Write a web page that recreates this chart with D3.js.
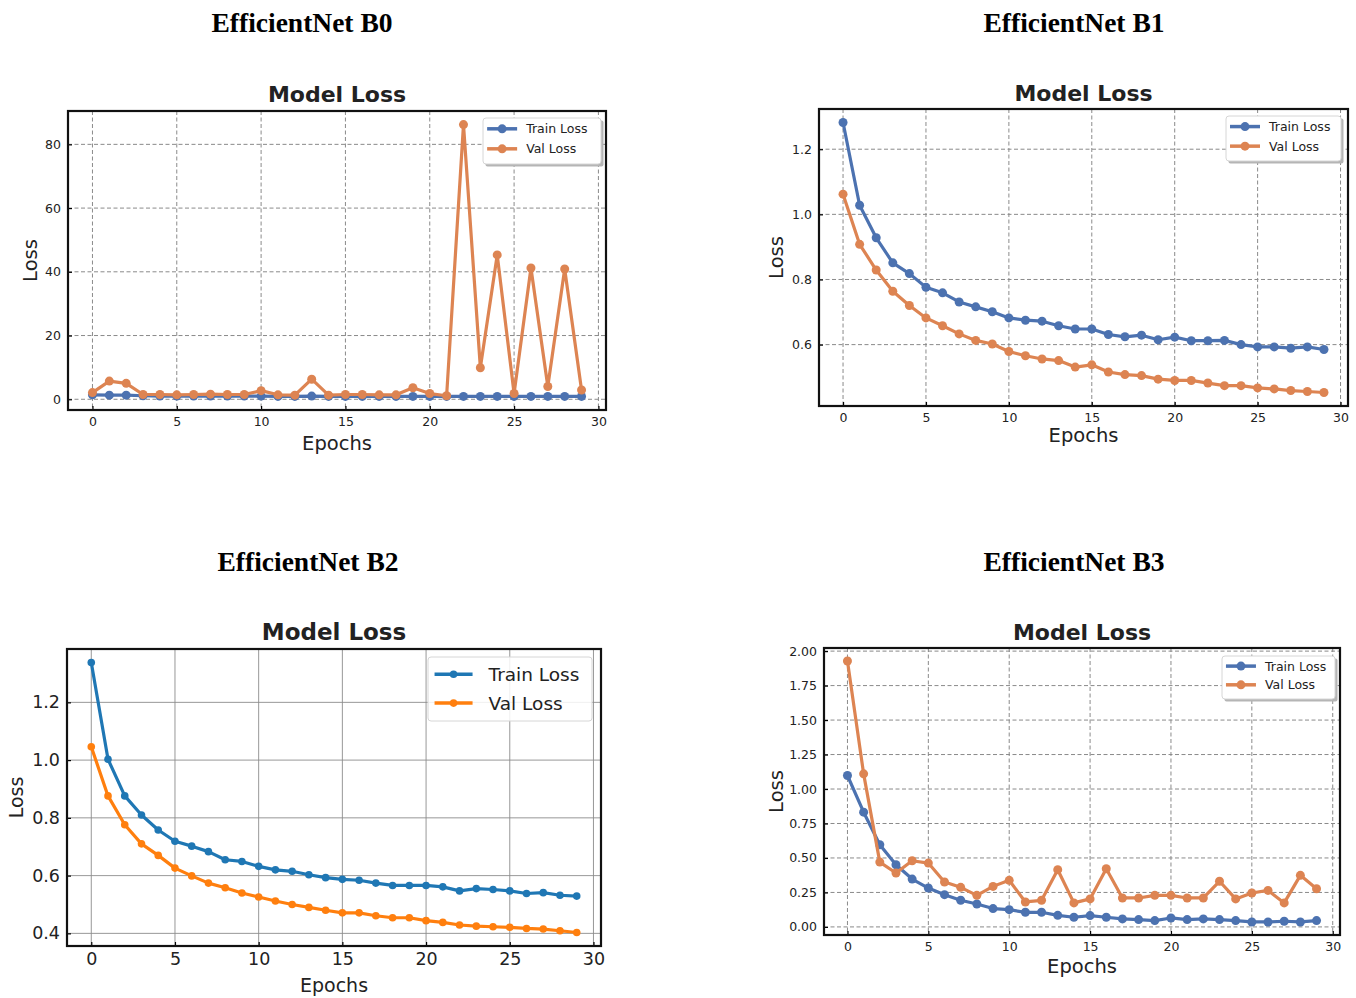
<!DOCTYPE html>
<html><head><meta charset="utf-8">
<script src="https://cdn.jsdelivr.net/npm/d3@7"></script>
<style>body{margin:0;background:#fff}svg{display:block}</style>
</head><body>
<svg id="c" width="1356" height="998"></svg>
<script>
const epochs = d3.range(0, 30);
const xTicks = [0, 5, 10, 15, 20, 25, 30];
const seriesNames = ["Train Loss", "Val Loss"];

const b0Train = [1.4,1.3,1.3,1.1,1.0,1.0,1.0,1.0,1.0,1.0,1.0,0.9,0.9,1.0,0.9,0.9,0.9,0.9,0.9,0.9,0.9,0.9,0.9,0.9,0.9,0.9,0.9,0.9,0.9,0.9];
const b0Val = [2.1,5.7,5.0,1.5,1.5,1.4,1.5,1.6,1.5,1.5,2.7,1.4,1.3,6.3,1.3,1.5,1.5,1.4,1.4,3.6,1.8,1.1,86.2,9.9,45.3,1.8,41.2,4.0,40.9,2.9];
const b0YTicks = [0, 20, 40, 60, 80];

const b1Train = [1.282,1.028,0.928,0.851,0.818,0.776,0.759,0.731,0.716,0.701,0.682,0.675,0.672,0.658,0.648,0.648,0.631,0.624,0.629,0.615,0.623,0.612,0.612,0.613,0.600,0.593,0.593,0.589,0.593,0.585];
const b1Val = [1.062,0.908,0.829,0.764,0.720,0.682,0.658,0.633,0.613,0.602,0.579,0.566,0.556,0.551,0.531,0.538,0.516,0.508,0.505,0.494,0.490,0.490,0.482,0.474,0.474,0.467,0.464,0.459,0.456,0.453];
const b1YTicks = [0.6, 0.8, 1.0, 1.2];

const b2Train = [1.338,1.003,0.876,0.810,0.758,0.719,0.702,0.683,0.655,0.649,0.632,0.620,0.615,0.603,0.593,0.587,0.584,0.574,0.566,0.566,0.566,0.561,0.547,0.555,0.552,0.547,0.538,0.541,0.532,0.529];
const b2Val = [1.046,0.876,0.776,0.710,0.670,0.626,0.599,0.574,0.558,0.540,0.526,0.512,0.500,0.490,0.480,0.471,0.471,0.461,0.454,0.454,0.444,0.438,0.429,0.425,0.423,0.421,0.417,0.415,0.409,0.403];
const b2YTicks = [0.4, 0.6, 0.8, 1.0, 1.2];

const b3Train = [1.098,0.832,0.596,0.451,0.347,0.282,0.234,0.193,0.166,0.133,0.125,0.106,0.106,0.084,0.070,0.082,0.070,0.058,0.053,0.046,0.065,0.053,0.058,0.053,0.046,0.036,0.036,0.041,0.036,0.046];
const b3Val = [1.928,1.110,0.470,0.391,0.480,0.463,0.326,0.287,0.229,0.294,0.338,0.181,0.193,0.415,0.174,0.203,0.422,0.210,0.210,0.229,0.229,0.210,0.210,0.331,0.203,0.246,0.265,0.174,0.374,0.277];
const b3YTicks = [0, 0.25, 0.5, 0.75, 1.0, 1.25, 1.5, 1.75, 2.0];

const sectionTitles = ["EfficientNet B0", "EfficientNet B1", "EfficientNet B2", "EfficientNet B3"];
const chartTitle = "Model Loss";
const xLabel = "Epochs", yLabel = "Loss";

const deep = ["#4c72b0", "#dd8452"];
const tab = ["#1f77b4", "#ff7f0e"];

const panels = [
  {sec: sectionTitles[0], secX: 302, secY: 32, train: b0Train, val: b0Val, yTicks: b0YTicks, fmt: d3.format("d"),
   L: 68, R: 606, T: 111, B: 410, colors: deep, style: "deep", titleY: 102, titleSize: 22, tickSize: 12.5,
   labelSize: 19.5, yLabX: 37, epY: 450, legend: {x: 483, y: 118, w: 118, h: 46, fs: 12.5}},
  {sec: sectionTitles[1], secX: 1074, secY: 32, train: b1Train, val: b1Val, yTicks: b1YTicks, fmt: d3.format(".1f"),
   L: 819, R: 1348, T: 109, B: 406, colors: deep, style: "deep", titleY: 101, titleSize: 22, tickSize: 12.5,
   labelSize: 19.5, yLabX: 783, epY: 442, legend: {x: 1226, y: 116, w: 115, h: 45, fs: 12.5}},
  {sec: sectionTitles[2], secX: 308, secY: 571, train: b2Train, val: b2Val, yTicks: b2YTicks, fmt: d3.format(".1f"),
   L: 67, R: 601, T: 649, B: 946, colors: tab, style: "tab", titleY: 640, titleSize: 23, tickSize: 17.5,
   labelSize: 19, yLabX: 23, epY: 992, legend: {x: 428, y: 657, w: 164, h: 64, fs: 18.5}},
  {sec: sectionTitles[3], secX: 1074, secY: 571, train: b3Train, val: b3Val, yTicks: b3YTicks, fmt: d3.format(".2f"),
   L: 824, R: 1340, T: 648, B: 935, colors: deep, style: "deep", titleY: 640, titleSize: 22, tickSize: 12.5,
   labelSize: 19.5, yLabX: 783, epY: 973, legend: {x: 1222, y: 656, w: 113, h: 43, fs: 12.5}}
];

const svg = d3.select("#c");

function pad(ext) { const r = ext[1] - ext[0]; return [ext[0] - 0.05 * r, ext[1] + 0.05 * r]; }

panels.forEach(p => {
  const g = svg.append("g");
  const x = d3.scaleLinear().domain(pad([0, 29])).range([p.L, p.R]);
  const all = p.train.concat(p.val);
  const y = d3.scaleLinear().domain(pad(d3.extent(all))).range([p.B, p.T]);

  g.append("text").attr("x", p.secX).attr("y", p.secY).attr("text-anchor", "middle")
    .attr("font-family", "'Liberation Serif', 'DejaVu Serif', serif").attr("font-weight", "bold")
    .attr("font-size", 27.5).attr("fill", "#000").text(p.sec);

  g.append("text").attr("x", (p.L + p.R) / 2).attr("y", p.titleY).attr("text-anchor", "middle")
    .attr("font-family", "'DejaVu Sans', sans-serif").attr("font-weight", "bold")
    .attr("font-size", p.titleSize).attr("fill", "#222").text(chartTitle);

  // grid
  const gridColor = p.style === "tab" ? "#8c8c8c" : "#8a8a8a";
  const dash = p.style === "tab" ? null : "4,2.5";
  const gw = p.style === "tab" ? 0.9 : 1;
  const grid = g.append("g");
  grid.selectAll(".gx").data(xTicks).join("line")
    .attr("x1", d => x(d)).attr("x2", d => x(d)).attr("y1", p.T).attr("y2", p.B)
    .attr("stroke", gridColor).attr("stroke-width", gw).attr("stroke-dasharray", dash);
  grid.selectAll(".gy").data(p.yTicks).join("line")
    .attr("x1", p.L).attr("x2", p.R).attr("y1", d => y(d)).attr("y2", d => y(d))
    .attr("stroke", gridColor).attr("stroke-width", gw).attr("stroke-dasharray", dash);

  // axes with inward ticks
  const xAxis = d3.axisBottom(x).tickValues(xTicks).tickSize(-4).tickPadding(7).tickFormat(d3.format("d"));
  const yAxis = d3.axisLeft(y).tickValues(p.yTicks).tickSize(-4).tickPadding(7).tickFormat(p.fmt);
  const ax = g.append("g").attr("transform", `translate(0,${p.B})`).call(xAxis);
  const ay = g.append("g").attr("transform", `translate(${p.L},0)`).call(yAxis);
  [ax, ay].forEach(a => {
    a.select(".domain").remove();
    a.selectAll("line").attr("stroke", "#000").attr("stroke-width", 1.2);
    a.selectAll("text").attr("font-family", "'DejaVu Sans', sans-serif").attr("font-size", p.tickSize).attr("fill", "#222");
  });
  ax.selectAll("text").attr("dy", "0.71em");

  // lines
  const line = d3.line().x((d, i) => x(epochs[i])).y(d => y(d));
  [p.train, p.val].forEach((s, k) => {
    g.append("path").datum(s).attr("d", line).attr("fill", "none")
      .attr("stroke", p.colors[k]).attr("stroke-width", 3.2).attr("stroke-linejoin", "round");
    g.selectAll(null).data(s).join("circle")
      .attr("cx", (d, i) => x(epochs[i])).attr("cy", d => y(d))
      .attr("r", p.style === "tab" ? 3.8 : 4.5).attr("fill", p.colors[k]);
  });

  // frame
  g.append("rect").attr("x", p.L).attr("y", p.T).attr("width", p.R - p.L).attr("height", p.B - p.T)
    .attr("fill", "none").attr("stroke", "#111").attr("stroke-width", 2.2);

  // axis labels
  g.append("text").attr("x", (p.L + p.R) / 2).attr("y", p.epY).attr("text-anchor", "middle")
    .attr("font-family", "'DejaVu Sans', sans-serif").attr("font-size", p.labelSize).attr("fill", "#222").text(xLabel);
  g.append("text").attr("transform", `translate(${p.yLabX},${(p.T + p.B) / 2}) rotate(-90)`).attr("text-anchor", "middle")
    .attr("font-family", "'DejaVu Sans', sans-serif").attr("font-size", p.labelSize).attr("fill", "#222").text(yLabel);

  // legend
  const lg = p.legend;
  const leg = g.append("g");
  if (p.style !== "tab") {
    leg.append("rect").attr("x", lg.x + 2.5).attr("y", lg.y + 2.5).attr("width", lg.w).attr("height", lg.h)
      .attr("rx", 2).attr("fill", "#b5b5b5");
  }
  leg.append("rect").attr("x", lg.x).attr("y", lg.y).attr("width", lg.w).attr("height", lg.h)
    .attr("rx", 3).attr("fill", "#fff").attr("fill-opacity", p.style === "tab" ? 0.85 : 1)
    .attr("stroke", "#d6d6d6").attr("stroke-width", 1);
  const rows = p.style === "tab" ? [0.27, 0.72] : [0.235, 0.67];
  seriesNames.forEach((n, k) => {
    const cy = lg.y + lg.h * rows[k];
    const lx0 = lg.x + lg.w * (p.style === "tab" ? 0.04 : 0.035);
    const lx1 = lx0 + (p.style === "tab" ? 38 : 30);
    leg.append("line").attr("x1", lx0).attr("x2", lx1).attr("y1", cy).attr("y2", cy)
      .attr("stroke", p.colors[k]).attr("stroke-width", 3.5);
    leg.append("circle").attr("cx", (lx0 + lx1) / 2).attr("cy", cy).attr("r", p.style === "tab" ? 3.8 : 4.5).attr("fill", p.colors[k]);
    leg.append("text").attr("x", lx1 + (p.style === "tab" ? 16 : 9)).attr("y", cy).attr("dy", "0.36em")
      .attr("font-family", "'DejaVu Sans', sans-serif").attr("font-size", lg.fs).attr("fill", "#222").text(n);
  });
});
</script>
</body></html>
